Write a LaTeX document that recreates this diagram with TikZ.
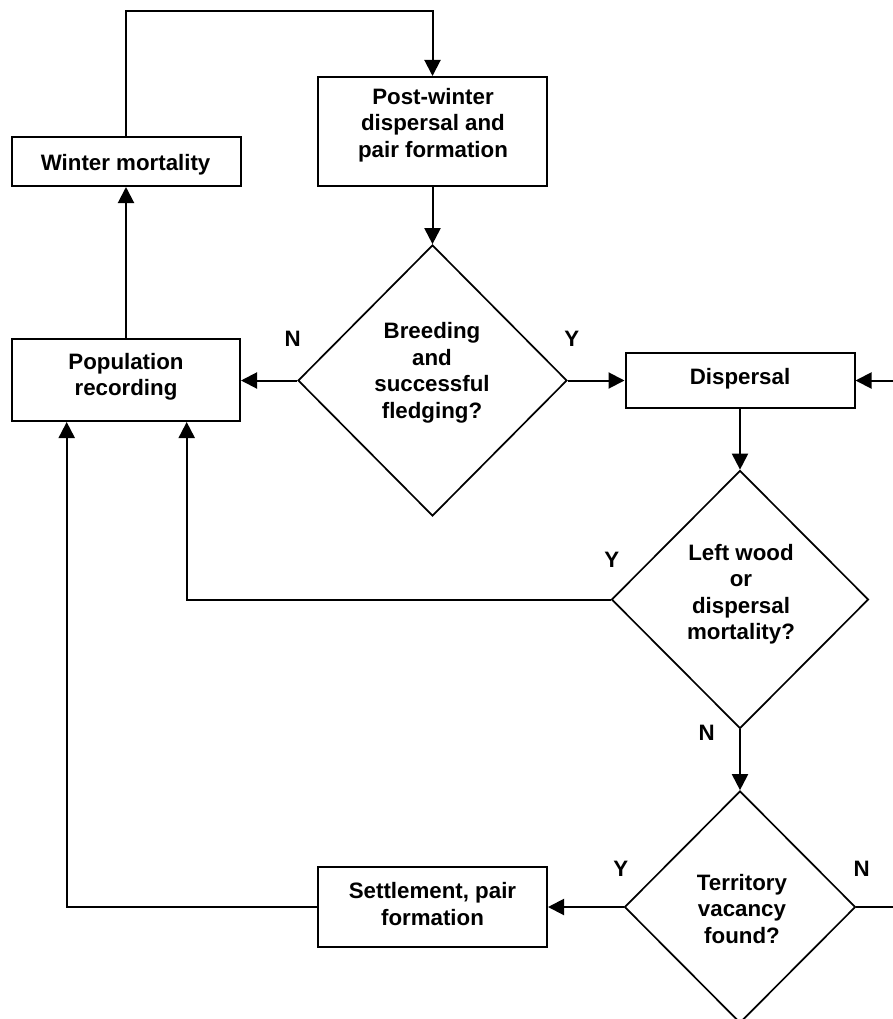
\documentclass[tikz,border=0pt]{standalone}
\usepackage{fontspec}
\setmainfont{Liberation Sans}
\usetikzlibrary{shapes.geometric,arrows.meta}
\begin{document}
\begin{tikzpicture}[x=1pt,y=-1pt,
  box/.style={draw, line width=2pt, rectangle, inner sep=0pt, minimum width=229pt},
  dia/.style={draw, line width=1.7pt, diamond, inner sep=0pt, aspect=1},
  txt/.style={font=\fontsize{22.3}{26.5}\selectfont\bfseries, align=center, inner sep=0pt},
  arr/.style={line width=2pt, -{Triangle[length=16pt,width=16pt]}}]
\useasboundingbox (0,0) rectangle (893,1019);
\clip (0,0) rectangle (893,1019);
% boxes
\node[box, minimum height=49pt] (wm) at (126,161.5) {};
\node[box, minimum height=109pt] (pw) at (432.5,131.5) {};
\node[box, minimum width=228pt, minimum height=82pt] (pop) at (126,380) {};
\node[box, minimum height=55pt] (dis) at (740,380.5) {};
\node[box, minimum height=80pt] (set) at (432.5,907) {};
% decisions
\node[dia, minimum width=269pt, minimum height=271pt] (br) at (432.5,380.5) {};
\node[dia, minimum width=257pt, minimum height=258pt] (lw) at (740,599.5) {};
\node[dia, minimum width=231pt, minimum height=232pt] (ter) at (740,907) {};
% texts
\node[txt] (wmt) at (125.6,165) {Winter mortality};
\node[txt] (pwt) at (433,125) {Post-winter\\dispersal and\\pair formation};
\node[txt] (popt) at (126,377) {Population\\recording};
\node[txt] (dist) at (740,379) {Dispersal};
\node[txt] (brt) at (432,373) {Breeding\\and\\successful\\fledging?};
\node[txt] (lwt) at (741,594) {Left wood\\or\\dispersal\\mortality?};
\node[txt] (tert) at (742,909) {Territory\\vacancy\\found?};
\node[txt] (sett) at (432.5,904) {Settlement, pair\\formation};
% branch labels
\node[txt] (lbN1) at (292.7,339) {N};
\node[txt] (lbY1) at (571.7,339) {Y};
\node[txt] (lbY2) at (611.7,560) {Y};
\node[txt] (lbN2) at (706.7,733) {N};
\node[txt] (lbY3) at (620.7,869) {Y};
\node[txt] (lbN3) at (861.7,869) {N};
% connectors
\coordinate (rloop) at (905,907);
\draw[arr] (wm.north) -- ++(0,-125) -| (pw.north);
\draw[arr] (pw.south) -- (br.north);
\draw[arr] (pop.north) -- (pop.north |- wm.south);
\draw[arr] (br.west) -- (br.west -| pop.east);
\draw[arr] (br.east) -- (br.east -| dis.west);
\draw[arr] (dis.south) -- (lw.north);
\draw[arr] (lw.west) -| ([xshift=60.7pt]pop.south);
\draw[arr] (lw.south) -- (ter.north);
\draw[arr] (ter.west) -- (ter.west -| set.east);
\draw[arr] (set.west) -| ([xshift=-59.3pt]pop.south);
\draw[arr] (ter.east) -- (rloop) |- (dis.east);
\end{tikzpicture}
\end{document}
